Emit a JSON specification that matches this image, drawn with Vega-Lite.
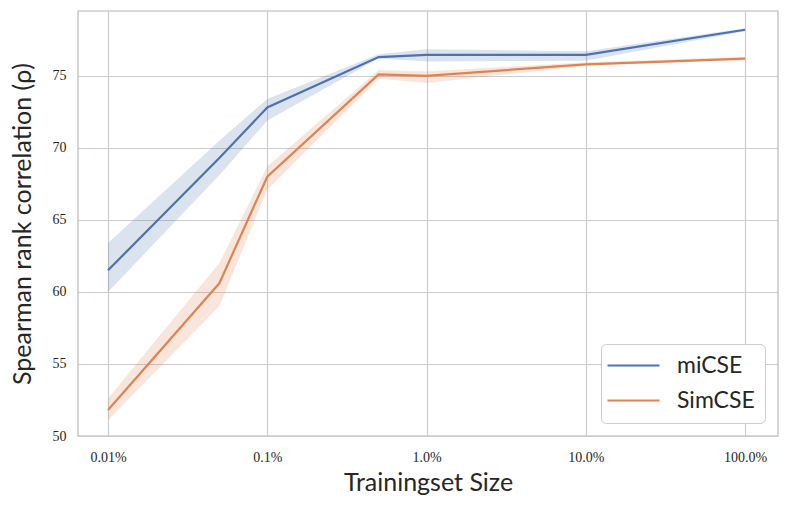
{
  "$schema": "https://vega.github.io/schema/vega-lite/v6.json",
  "width": 700,
  "height": 425,
  "autosize": {"type": "none"},
  "padding": {"left": 78, "top": 11, "right": 11, "bottom": 74},
  "background": "white",
  "config": {
    "view": {"stroke": "#cccccc", "strokeWidth": 1.6},
    "axis": {
      "gridColor": "#cccccc",
      "gridWidth": 1.2,
      "domain": false,
      "ticks": false,
      "labelColor": "#262626",
      "labelFont": "Liberation Serif",
      "labelFontSize": 14,
      "titleColor": "#262626",
      "titleFont": "Lato",
      "titleFontSize": 25,
      "titleFontWeight": "normal"
    },
    "legend": {
      "labelFont": "Lato",
      "labelFontSize": 23,
      "labelColor": "#262626"
    }
  },
  "data": {
    "values": [
      {"model": "miCSE", "size": 0.01, "mean": 61.5, "lo": 60.0, "hi": 63.4},
      {"model": "miCSE", "size": 0.05, "mean": 69.3, "lo": 68.1, "hi": 70.5},
      {"model": "miCSE", "size": 0.1, "mean": 72.8, "lo": 71.9, "hi": 73.4},
      {"model": "miCSE", "size": 0.5, "mean": 76.3, "lo": 76.2, "hi": 76.5},
      {"model": "miCSE", "size": 1, "mean": 76.45, "lo": 76.0, "hi": 76.85},
      {"model": "miCSE", "size": 10, "mean": 76.45, "lo": 76.05, "hi": 76.7},
      {"model": "miCSE", "size": 100, "mean": 78.2, "lo": 78.1, "hi": 78.3},
      {"model": "SimCSE", "size": 0.01, "mean": 51.8, "lo": 51.1, "hi": 52.6},
      {"model": "SimCSE", "size": 0.05, "mean": 60.6, "lo": 59.0, "hi": 62.0},
      {"model": "SimCSE", "size": 0.1, "mean": 68.0, "lo": 67.1, "hi": 68.7},
      {"model": "SimCSE", "size": 0.5, "mean": 75.1, "lo": 74.8, "hi": 75.4},
      {"model": "SimCSE", "size": 1, "mean": 75.0, "lo": 74.5, "hi": 75.3},
      {"model": "SimCSE", "size": 10, "mean": 75.8, "lo": 75.7, "hi": 75.95},
      {"model": "SimCSE", "size": 100, "mean": 76.2, "lo": 76.1, "hi": 76.3}
    ]
  },
  "encoding": {
    "x": {
      "field": "size",
      "type": "quantitative",
      "scale": {"type": "log", "domain": [0.00648, 161], "nice": false},
      "axis": {
        "title": "Trainingset Size",
        "values": [0.01, 0.1, 1, 10, 100],
        "labelExpr": "datum.value < 0.05 ? '0.01%' : datum.value < 0.5 ? '0.1%' : format(datum.value, '.1f') + '%'",
        "labelPadding": 14,
        "titlePadding": 6
      }
    },
    "color": {
      "field": "model",
      "type": "nominal",
      "scale": {"domain": ["miCSE", "SimCSE"], "range": ["#4C72B0", "#DD8452"]},
      "legend": {
        "title": null,
        "orient": "bottom-right",
        "offset": 13,
        "symbolType": "M-2.6,0H2.6",
        "symbolSize": 400,
        "symbolStrokeWidth": 2,
        "symbolOpacity": 1,
        "symbolOffset": 11,
        "fillColor": "white",
        "strokeColor": "#cccccc",
        "cornerRadius": 5,
        "padding": 10,
        "rowPadding": 11,
        "labelOffset": 32
      }
    }
  },
  "layer": [
    {
      "mark": {"type": "area", "opacity": 0.2},
      "encoding": {
        "y": {"field": "lo", "type": "quantitative"},
        "y2": {"field": "hi"}
      }
    },
    {
      "mark": {"type": "line", "strokeWidth": 2.2},
      "encoding": {
        "y": {
          "field": "mean",
          "type": "quantitative",
          "scale": {"domain": [50, 79.5], "nice": false, "zero": false},
          "axis": {
            "title": "Spearman rank correlation (ρ)",
            "values": [50, 55, 60, 65, 70, 75],
            "labelPadding": 12,
            "titlePadding": 17
          }
        }
      }
    }
  ]
}
